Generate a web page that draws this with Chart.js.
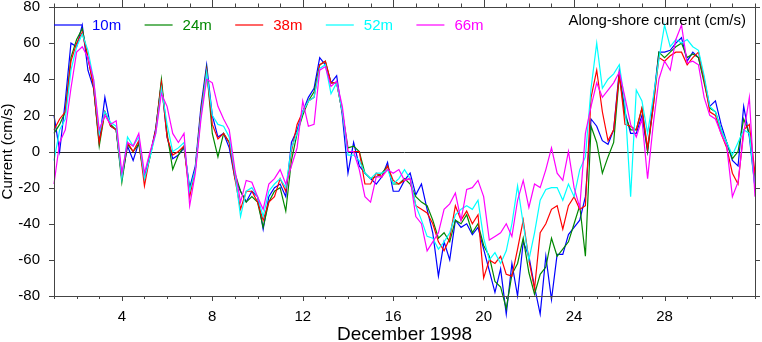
<!DOCTYPE html>
<html>
<head>
<meta charset="utf-8">
<title>Along-shore current, December 1998</title>
<script src="https://cdn.jsdelivr.net/npm/chart.js@4.4.1/dist/chart.umd.min.js"></script>
<style>
  html, body { margin: 0; padding: 0; background: #fff; }
  #wrap { width: 762px; height: 342px; }
</style>
</head>
<body>
<div id="wrap"><canvas id="currentChart" width="762" height="342"></canvas></div>
<script>
// sample times: day of December 1998, every 6 hours (Dec 1 00:00 .. Jan 1 00:00)
var days = [];
for (var i = 0; i <= 124; i++) days.push(1 + i * 0.25);

var depths = ['10m', '24m', '38m', '52m', '66m'];
var xLabelDays = [4, 8, 12, 16, 20, 24, 28];
var yLabelValues = [-80, -60, -40, -20, 0, 20, 40, 60, 80];

// along-shore current (cm/s), one line = 2 days
var current10m = [
  20, 0, 28, 60, 58, 70, 45, 35,
  5, 30, 14, 12, -15, 3, -5, 5,
  -14, -2, 13, 38, 8, -4, -2, 2,
  -20, -8, 25, 48, 20, 8, 10, 2,
  -15, -22, -28, -22, -25, -43, -25, -20,
  -18, -25, 5, 12, 22, 30, 35, 52,
  48, 38, 42, 20, -12, 5, -8, -12,
  -15, -18, -14, -6, -22, -22, -16, -12,
  -24, -18, -32, -45, -69, -50, -60, -38,
  -42, -40, -46, -42, -54, -66, -78, -65,
  -90, -62, -80, -50, -58, -75, -90, -58,
  -82, -57, -57, -46, -42, -38, -25, 18,
  14, 6, 4, 12, 45, 22, 10, 10,
  20, 0, 28, 55, 55, 56, 60, 63,
  50, 55, 52, 40, 25, 28, 15, 5,
  -5, -8, 25, 8, -20
];
var current24m = [
  10, 15, 22, 52, 62, 68, 52, 36,
  3, 22, 15, 12, -17, 4, 0, 4,
  -15, -3, 12, 40, 10, -10, -2, 3,
  -22, -10, 22, 46, 10, -3, 10, 5,
  -12, -22, -28, -25, -28, -42, -28, -22,
  -20, -33, -5, 10, 20, 28, 33, 48,
  50, 38, 38, 22, 2, 3, 0, -12,
  -15, -14, -12, -8, -18, -18, -15, -18,
  -25, -28, -30, -38, -48, -45, -50, -38,
  -40, -35, -45, -40, -52, -58, -72, -75,
  -87, -68, -62, -48, -67, -79, -68, -64,
  -48, -58, -54, -50, -40, -30, -58, 14,
  5, -12, -3, 5, 42, 20, 12, 12,
  24, 0, 25, 55, 52, 55, 58, 60,
  52, 54, 52, 38, 24, 22, 12, 5,
  -4, 0, 18, 10, -15
];
var current38m = [
  12, 18, 22, 50, 60, 66, 52, 36,
  5, 22, 14, 12, -14, 5, 0, 6,
  -19, -2, 12, 38, 8, -2, 0, 3,
  -25, -10, 22, 45, 15, 7, 10, 5,
  -15, -32, -22, -22, -28, -38, -28, -25,
  -15, -22, 0, 15, 22, 28, 30, 48,
  50, 38, 38, 22, 0, 0, 0, -18,
  -18, -12, -14, -8, -16, -18, -16, -15,
  -30, -32, -34, -40, -50, -55, -48, -30,
  -38, -33, -40, -35, -70, -60, -62, -58,
  -68, -69, -54, -38, -60, -76, -45, -40,
  -32, -30, -43, -30, -25, -32, -30, 30,
  45, 22, 6, 12, 43, 15, 14, 12,
  24, 2, 25, 52, 50, 53, 55, 55,
  48, 52, 55, 40, 22, 20, 10, 2,
  -12, -18, 12, 15, -12
];
var current52m = [
  -5, 12, 18, 45, 58, 65, 56, 40,
  10, 22, 16, 14, -15, 8, 3, 8,
  -15, -3, 10, 35, 15, 0, 2, 5,
  -22, -10, 20, 44, 20, 15, 14, 8,
  -12, -36, -22, -20, -25, -36, -22, -18,
  -15, -20, 2, 10, 22, 28, 30, 46,
  48, 32, 38, 22, -2, -2, -5, -12,
  -15, -12, -12, -10, -18, -15, -10, -15,
  -30, -38, -47, -48, -54, -50, -45, -35,
  -32, -30, -32, -27, -48, -60, -56, -62,
  -55, -40, -19, -40, -60, -45, -27, -21,
  -20, -20, -27, -18, -25, -10, -3, 35,
  60, 35, 40, 43, 48, 27, -25, 34,
  28, 10, 30, 51, 70, 58, 62, 60,
  62, 58, 56, 42, 25, 22, 12, 5,
  -2, 5, 12, 10, -20
];
var current66m = [
  -18, 5, 12, 35, 55, 58, 52, 40,
  12, 20, 15, 17, -12, 5, 3, 10,
  -12, 0, 10, 32, 25, 10, 5, 10,
  -30, -12, 18, 40, 38, 25, 18, 12,
  -10, -28, -16, -17, -25, -32, -18, -15,
  -10, -18, -8, 2, 28, 14, 15, 45,
  47, 36, 39, 25, 0, 0, -10, -25,
  -28, -14, -14, -10, -12, -10, -16, -15,
  -36, -40, -55, -50, -45, -32, -29, -23,
  -38, -21, -20, -16, -25, -49, -47, -45,
  -40, -47, -27, -16, -31, -18, -20, -10,
  2, -12, -16, 0, -20, -31, 10, 25,
  38, 30, 34, 38, 44, 30, 15, 8,
  18, -15, 15, 40, 50, 45, 62, 70,
  49, 50, 48, 30, 20, 18, 10, 3,
  -25, -17, 10, 30, -25
];

var FONT = '"Liberation Sans", Arial, Helvetica, sans-serif';
Chart.defaults.font.family = FONT;
Chart.defaults.color = '#000';

function toPoints(values) {
    return days.map(function(d, i) { return { x: d, y: values[i] }; });
}

function makeLine(label, values, color, order) {
    return {
        label: label,
        data: toPoints(values),
        borderColor: color,
        backgroundColor: color,
        borderWidth: 1.2,
        pointRadius: 0,
        tension: 0,
        clip: false,
        order: order
    };
}

// zero line under the data
var zeroLine = {
    id: 'zeroLine',
    beforeDatasetsDraw: function(chart) {
        var ctx = chart.ctx, a = chart.chartArea;
        var y0 = Math.round(chart.scales.y.getPixelForValue(0)) + 0.5;
        ctx.save();
        ctx.strokeStyle = '#222';
        ctx.lineWidth = 1;
        ctx.beginPath();
        ctx.moveTo(a.left, y0);
        ctx.lineTo(a.right, y0);
        ctx.stroke();
        ctx.restore();
    }
};

// box around the plot with outward tick marks on all four sides
var frameTicks = {
    id: 'frameTicks',
    afterDatasetsDraw: function(chart) {
        var ctx = chart.ctx, a = chart.chartArea;
        var xs = chart.scales.x, ys = chart.scales.y;
        ctx.save();
        ctx.strokeStyle = '#444';
        ctx.lineWidth = 1;
        ctx.strokeRect(Math.round(a.left) + 0.5, Math.round(a.top) + 0.5,
            Math.round(a.right - a.left), Math.round(a.bottom - a.top));
        ctx.beginPath();
        xs.ticks.forEach(function(t) {
            var px = Math.round(xs.getPixelForValue(t.value)) + 0.5;
            var major = xLabelDays.indexOf(t.value) >= 0;
            ctx.moveTo(px, a.bottom);
            ctx.lineTo(px, a.bottom + (major ? 5 : 3));
            ctx.moveTo(px, a.top);
            ctx.lineTo(px, a.top - (major ? 7 : 3.5));
        });
        ys.ticks.forEach(function(t) {
            var py = Math.round(ys.getPixelForValue(t.value)) + 0.5;
            var major = yLabelValues.indexOf(t.value) >= 0;
            ctx.moveTo(a.left, py);
            ctx.lineTo(a.left - (major ? 5 : 3), py);
            ctx.moveTo(a.right, py);
            ctx.lineTo(a.right + (major ? 5 : 3), py);
        });
        ctx.stroke();
        ctx.restore();
    }
};

// legend row and the panel label, drawn inside the plot
var depthLegend = {
    id: 'depthLegend',
    afterDraw: function(chart) {
        var ctx = chart.ctx, a = chart.chartArea;
        ctx.save();
        ctx.font = '15px ' + FONT;
        ctx.textBaseline = 'middle';
        chart.data.datasets.forEach(function(ds, i) {
            var x0 = a.left + i * 90.6;
            ctx.strokeStyle = ds.borderColor;
            ctx.lineWidth = 1.2;
            ctx.beginPath();
            ctx.moveTo(x0, 25);
            ctx.lineTo(x0 + 28, 25);
            ctx.stroke();
            ctx.fillStyle = ds.borderColor;
            ctx.textAlign = 'left';
            ctx.fillText(ds.label, x0 + 38, 26);
        });
        ctx.fillStyle = '#000';
        ctx.textAlign = 'right';
        ctx.fillText('Along-shore current (cm/s)', 746, 21);
        ctx.restore();
    }
};

var ctx = document.getElementById('currentChart').getContext('2d');
var currentChart = new Chart(ctx, {
    type: 'line',
    data: {
        datasets: [
            makeLine(depths[0], current10m, '#0000ff', 4),
            makeLine(depths[1], current24m, '#008800', 3),
            makeLine(depths[2], current38m, '#ff0000', 2),
            makeLine(depths[3], current52m, '#00ffff', 1),
            makeLine(depths[4], current66m, '#ff00ff', 0)
        ]
    },
    options: {
        responsive: false,
        animation: false,
        events: [],
        layout: { padding: { top: 7, right: 7, left: 0, bottom: 0 } },
        plugins: {
            legend: { display: false },
            tooltip: { enabled: false }
        },
        scales: {
            x: {
                type: 'linear',
                min: 1,
                max: 32,
                grid: { display: false, drawTicks: false },
                border: { display: false },
                ticks: {
                    stepSize: 1,
                    autoSkip: false,
                    maxRotation: 0,
                    padding: 12,
                    font: { size: 15 },
                    color: '#000',
                    callback: function(v) { return xLabelDays.indexOf(v) >= 0 ? String(v) : ''; }
                },
                title: {
                    display: true,
                    text: 'December 1998',
                    font: { size: 19, lineHeight: 1 },
                    color: '#000',
                    padding: { top: 0, bottom: -2.5 }
                },
                afterFit: function(scale) {
                    scale.height = 46;
                    scale.paddingLeft = 0;
                    scale.paddingRight = 0;
                }
            },
            y: {
                min: -80,
                max: 80,
                grid: { display: false, drawTicks: false },
                border: { display: false },
                ticks: {
                    stepSize: 10,
                    padding: 14,
                    font: { size: 15 },
                    color: '#000',
                    callback: function(v) { return yLabelValues.indexOf(v) >= 0 ? String(v) : ''; }
                },
                title: {
                    display: true,
                    text: 'Current (cm/s)',
                    font: { size: 15, lineHeight: 1 },
                    color: '#000',
                    padding: { top: 0, bottom: 0 }
                },
                afterFit: function(scale) {
                    scale.width = 54;
                    scale.paddingTop = 0;
                    scale.paddingBottom = 0;
                }
            }
        }
    },
    plugins: [zeroLine, frameTicks, depthLegend]
});
</script>
</body>
</html>
